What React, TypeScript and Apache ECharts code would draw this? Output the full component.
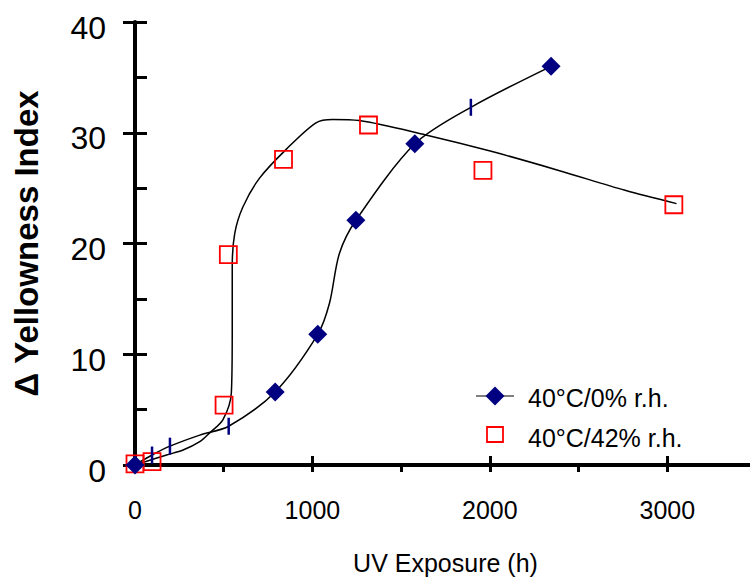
import React, { useEffect, useRef } from "react";
import * as echarts from "echarts";

// Marker data (UV exposure in hours, Δ Yellowness Index)
const diamondHours = [0, 790, 1030, 1245, 1577, 2345];
const diamondYI = [0, 6.6, 11.8, 22.1, 29.0, 36.0];
const squareHours = [0, 96, 502, 526, 837, 1316, 1961, 3037];
const squareYI = [0.1, 0.3, 5.4, 19.0, 27.6, 30.7, 26.6, 23.5];

// Vertical bar markers on the 0% r.h. curve
const barHours = [96, 197, 528, 1893];
const barYI = [0.9, 1.7, 3.5, 32.3];

// Fitted curves
const curve0Hours = [0, 96, 197, 365, 528, 790, 1030, 1096, 1152, 1245, 1577, 1893, 2345];
const curve0YI = [0, 0.9, 1.7, 2.7, 3.5, 6.6, 11.8, 14.6, 19.1, 22.1, 29.0, 32.3, 36.0];
const curve42Hours = [0, 178, 271, 365, 421, 496, 543, 548, 548, 562, 608, 702, 852, 1020, 1114, 1264, 1639, 2013, 2388, 2762, 3052];
const curve42YI = [0, 0.9, 1.35, 2.1, 2.9, 4.1, 6.5, 11.9, 17.9, 20.9, 23.3, 25.9, 28.5, 30.9, 31.2, 31.1, 29.8, 28.3, 26.6, 24.8, 23.6];

const xLabels = ["0", "1000", "2000", "3000"];
const yLabels = ["0", "10", "20", "30", "40"];
const legendNames = ["40°C/0% r.h.", "40°C/42% r.h."];

const FONT = "Liberation Sans, Arial, sans-serif";
const NAVY = "#000080";
const RED = "#FF0000";

const zip = (a: number[], b: number[]) => a.map((v, i) => [v, b[i]]);

export default function App() {
  const ref = useRef<HTMLDivElement>(null);
  useEffect(() => {
    if (!ref.current) return;
    const chart = echarts.init(ref.current, null, { renderer: "svg" });
    const axisLine = { show: true, lineStyle: { color: "#000", width: 4 } };
    chart.setOption({
      animation: false,
      backgroundColor: "#fff",
      grid: { left: 135, top: 22, right: -6, bottom: 113, containLabel: false, outerBoundsMode: "none" },
      xAxis: [
        {
          type: "value", min: 0, max: 3500, interval: 500, position: "bottom",
          axisLine, splitLine: { show: false },
          axisTick: { show: true, inside: false, length: 7, lineStyle: { color: "#000", width: 3 } },
          axisLabel: {
            margin: 32, color: "#000", fontFamily: FONT, fontSize: 25,
            formatter: (v: number) => (xLabels.includes(String(v)) ? String(v) : ""),
          },
          name: "UV Exposure (h)", nameLocation: "middle", nameGap: 85,
          nameTextStyle: { color: "#000", fontFamily: FONT, fontSize: 25 },
        },
        {
          type: "value", min: 0, max: 3500, interval: 1000, position: "bottom",
          axisLine: { show: false }, splitLine: { show: false },
          axisTick: { show: true, inside: true, length: 9, lineStyle: { color: "#000", width: 3 } },
          axisLabel: { show: false },
        },
      ],
      yAxis: [
        {
          type: "value", min: 0, max: 40, interval: 5, position: "left",
          axisLine, splitLine: { show: false },
          axisTick: { show: true, inside: true, length: 12, lineStyle: { color: "#000", width: 3 } },
          axisLabel: {
            margin: 29, color: "#000", fontFamily: FONT, fontSize: 32,
            formatter: (v: number) => (yLabels.includes(String(v)) ? `{v|${v}}` : ""),
            rich: { v: { color: "#000", fontFamily: FONT, fontSize: 32, padding: [11, 0, 0, 0] } },
          },
          name: "Δ Yellowness Index", nameLocation: "middle", nameGap: 92,
          nameTextStyle: { color: "#000", fontFamily: FONT, fontSize: 33, fontWeight: "bold" },
        },
        {
          type: "value", min: 0, max: 40, interval: 10, position: "left",
          axisLine: { show: false }, splitLine: { show: false },
          axisTick: { show: true, inside: false, length: 12, lineStyle: { color: "#000", width: 3 } },
          axisLabel: { show: false },
        },
      ],
      series: [
        {
          type: "line", data: zip(curve42Hours, curve42YI), smooth: 0.3,
          showSymbol: false, symbol: "none", lineStyle: { color: "#000", width: 1.5 },
          xAxisIndex: 0, yAxisIndex: 0, silent: true, z: 2,
        },
        {
          type: "line", data: zip(curve0Hours, curve0YI), smooth: 0.3,
          showSymbol: false, symbol: "none", lineStyle: { color: "#000", width: 1.5 },
          xAxisIndex: 0, yAxisIndex: 0, silent: true, z: 2,
        },
        {
          name: legendNames[1], type: "scatter", data: zip(squareHours, squareYI),
          symbol: "rect", symbolSize: 17,
          itemStyle: { color: "rgba(0,0,0,0)", borderColor: RED, borderWidth: 1.8, opacity: 1 },
          z: 3,
        },
        {
          type: "scatter", data: zip(barHours, barYI), symbol: "rect", symbolSize: [2.5, 17],
          itemStyle: { color: NAVY, opacity: 1 }, z: 4,
        },
        {
          name: legendNames[0], type: "scatter", data: zip(diamondHours, diamondYI),
          symbol: "diamond", symbolSize: 19, itemStyle: { color: NAVY, opacity: 1 }, z: 5,
        },
      ],
      graphic: [
        { type: "line", shape: { x1: 476, y1: 396, x2: 514, y2: 396 }, style: { stroke: "#000", lineWidth: 1.2 } },
        { type: "polygon", shape: { points: [[495, 386.5], [504.5, 396], [495, 405.5], [485.5, 396]] }, style: { fill: NAVY } },
        { type: "text", x: 528, y: 398, style: { text: legendNames[0], font: `25px ${FONT}`, fill: "#000", verticalAlign: "middle", align: "left" } },
        { type: "rect", shape: { x: 487, y: 427, width: 16, height: 15 }, style: { fill: "none", stroke: RED, lineWidth: 1.8 } },
        { type: "text", x: 528, y: 438, style: { text: legendNames[1], font: `25px ${FONT}`, fill: "#000", verticalAlign: "middle", align: "left" } },
      ],
    });
    return () => chart.dispose();
  }, []);
  return (
    <div
      ref={ref}
      style={{ position: "fixed", left: 0, top: 0, width: 750, height: 578, background: "#fff" }}
    />
  );
}
